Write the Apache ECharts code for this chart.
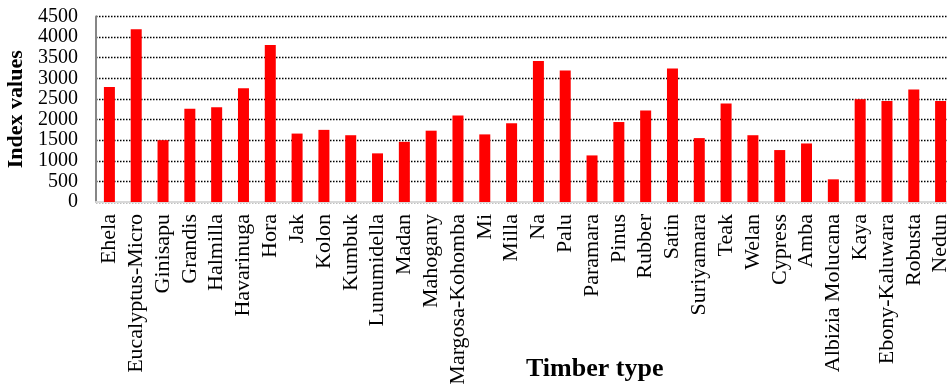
<!DOCTYPE html>
<html>
<head>
<meta charset="utf-8">
<script src="https://cdn.jsdelivr.net/npm/echarts@6/dist/echarts.min.js"></script>
<style>
  html, body { margin: 0; padding: 0; background: #fff; }
  #chart { width: 947px; height: 390px; }
</style>
</head>
<body>
<div id="chart"></div>
<script>
// Timber species on the category axis
const timberTypes = [
  'Ehela', 'Eucalyptus-Micro', 'Ginisapu', 'Grandis', 'Halmilla', 'Havarinuga',
  'Hora', 'Jak', 'Kolon', 'Kumbuk', 'Lunumidella', 'Madan', 'Mahogany',
  'Margosa-Kohomba', 'Mi', 'Milla', 'Na', 'Palu', 'Paramara', 'Pinus',
  'Rubber', 'Satin', 'Suriyamara', 'Teak', 'Welan', 'Cypress', 'Amba',
  'Albizia Molucana', 'Kaya', 'Ebony-Kaluwara', 'Robusta', 'Nedun'
];

// Index value for each timber type
const indexValues = [
  2790, 4190, 1500, 2260, 2300, 2760,
  3810, 1660, 1750, 1620, 1180, 1460, 1730,
  2100, 1640, 1910, 3420, 3190, 1130, 1940,
  2220, 3240, 1550, 2390, 1620, 1260, 1420,
  550, 2490, 2450, 2730, 2450
];

// Value axis ticks
const yMin = 0;
const yMax = 4500;
const yStep = 500;

const font = '"Liberation Serif", "Times New Roman", serif';

const chart = echarts.init(document.getElementById('chart'), null, { renderer: 'canvas' });

chart.setOption({
  animation: false,
  backgroundColor: '#ffffff',
  textStyle: { fontFamily: font },
  title: {
    text: 'Timber type',
    left: 526,
    top: 356,
    padding: 0,
    textStyle: { fontFamily: font, fontSize: 26, fontWeight: 'bold', color: '#000' }
  },
  grid: {
    left: 96, right: -7, top: 16.5, bottom: 188,
    containLabel: false,
    outerBoundsMode: 'none'
  },
  xAxis: {
    type: 'category',
    data: timberTypes,
    axisLine: { show: true, lineStyle: { color: '#d9d9d9', width: 2 } },
    axisTick: { show: false },
    axisLabel: {
      rotate: 90,
      interval: 0,
      margin: 12,
      fontFamily: font,
      fontSize: 22,
      color: '#000'
    }
  },
  yAxis: {
    type: 'value',
    min: yMin,
    max: yMax,
    interval: yStep,
    name: 'Index values',
    nameLocation: 'middle',
    nameGap: 63,
    nameTextStyle: { fontFamily: font, fontSize: 22, fontWeight: 'bold', color: '#000' },
    axisLine: { show: true, lineStyle: { color: '#868686', width: 2 } },
    axisTick: { show: false },
    axisLabel: {
      margin: 18,
      fontFamily: font,
      fontSize: 20,
      color: '#000',
      formatter: (v) => String(v)
    },
    splitLine: { show: true, lineStyle: { color: '#000', width: 1.3, type: [1.5, 1.5] } }
  },
  series: [{
    type: 'bar',
    data: indexValues,
    barWidth: 11,
    itemStyle: { color: '#ff0000' }
  }]
});
</script>
</body>
</html>
